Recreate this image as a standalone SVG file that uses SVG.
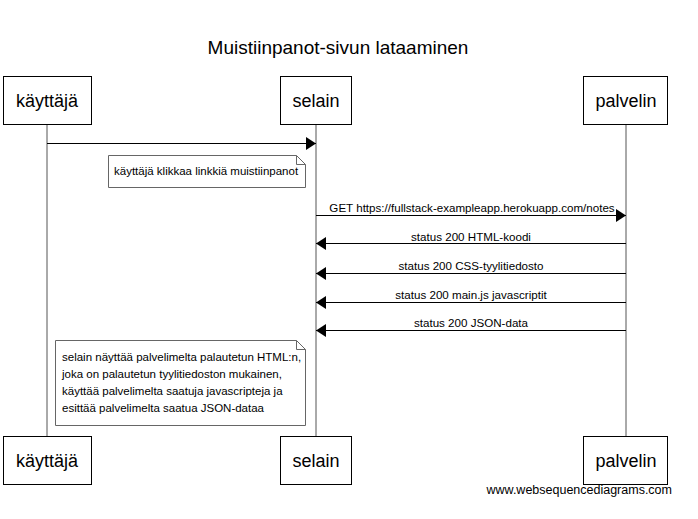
<svg xmlns="http://www.w3.org/2000/svg" width="698" height="519" viewBox="0 0 698 519">
<style>
text{font-family:"Liberation Sans",Arial,sans-serif;fill:#000}
.box{fill:#fff;stroke:#000;stroke-width:1}
.life{stroke:#555;stroke-width:1}
.msg{stroke:#000;stroke-width:1;fill:none}
.note{fill:#fff;stroke:#666;stroke-width:1}
.lbl{font-size:11.6px;text-anchor:middle}
.ntxt{font-size:11.5px}
.actor{font-size:18px;text-anchor:middle}
</style>
<defs>
<marker id="ah" markerWidth="10" markerHeight="13" refX="10" refY="6.5" orient="auto" markerUnits="userSpaceOnUse">
<path d="M0,0 L10,6.5 L0,13 Z" fill="#000"/>
</marker>
</defs>
<rect width="698" height="519" fill="#fff"/>
<text x="338" y="54" font-size="19" text-anchor="middle">Muistiinpanot-sivun lataaminen</text>
<g id="lifelines">
<line class="life" x1="47" y1="124" x2="47" y2="436"/>
<line class="life" x1="316" y1="124" x2="316" y2="436"/>
<line class="life" x1="626" y1="124" x2="626" y2="436"/>
</g>
<g id="kayttaja">
<rect class="box" x="3.5" y="76.5" width="88" height="48"/>
<text class="actor" x="47" y="107">käyttäjä</text>
<rect class="box" x="3.5" y="436.5" width="88" height="48"/>
<text class="actor" x="47" y="467">käyttäjä</text>
</g>
<g id="selain">
<rect class="box" x="280.5" y="76.5" width="71" height="48"/>
<text class="actor" x="316" y="107">selain</text>
<rect class="box" x="280.5" y="436.5" width="71" height="48"/>
<text class="actor" x="316" y="467">selain</text>
</g>
<g id="palvelin">
<rect class="box" x="583.5" y="76.5" width="84" height="48"/>
<text class="actor" x="626" y="107">palvelin</text>
<rect class="box" x="583.5" y="436.5" width="84" height="48"/>
<text class="actor" x="626" y="467">palvelin</text>
</g>
<g id="connectors">
<line class="msg" x1="47" y1="143.5" x2="316" y2="143.5" marker-end="url(#ah)"/>
<line class="msg" x1="316" y1="215.5" x2="626" y2="215.5" marker-end="url(#ah)"/>
<text class="lbl" x="472" y="212">GET https://fullstack-exampleapp.herokuapp.com/notes</text>
<line class="msg" x1="626" y1="243.5" x2="316" y2="243.5" marker-end="url(#ah)"/>
<text class="lbl" x="471" y="241">status 200 HTML-koodi</text>
<line class="msg" x1="626" y1="273.5" x2="316" y2="273.5" marker-end="url(#ah)"/>
<text class="lbl" x="471" y="270">status 200 CSS-tyylitiedosto</text>
<line class="msg" x1="626" y1="302.5" x2="316" y2="302.5" marker-end="url(#ah)"/>
<text class="lbl" x="471" y="299">status 200 main.js javascriptit</text>
<line class="msg" x1="626" y1="330.5" x2="316" y2="330.5" marker-end="url(#ah)"/>
<text class="lbl" x="471" y="327">status 200 JSON-data</text>
</g>
<g id="note1">
<path class="note" d="M108.5,155.5 H296.5 L305.5,164.5 V187.5 H108.5 Z M296.5,155.5 V164.5 H305.5"/>
<text class="ntxt" x="114" y="175">käyttäjä klikkaa linkkiä muistiinpanot</text>
</g>
<g id="note2">
<path class="note" d="M55.5,340.5 H296.5 L305.5,349.5 V425.5 H55.5 Z M296.5,340.5 V349.5 H305.5"/>
<text class="ntxt" x="62" y="361">selain näyttää palvelimelta palautetun HTML:n,</text>
<text class="ntxt" x="62" y="378">joka on palautetun tyylitiedoston mukainen,</text>
<text class="ntxt" x="62" y="395">käyttää palvelimelta saatuja javascripteja ja</text>
<text class="ntxt" x="62" y="412">esittää palvelimelta saatua JSON-dataa</text>
</g>
<text x="672" y="494" font-size="12.5" text-anchor="end">www.websequencediagrams.com</text>
</svg>
